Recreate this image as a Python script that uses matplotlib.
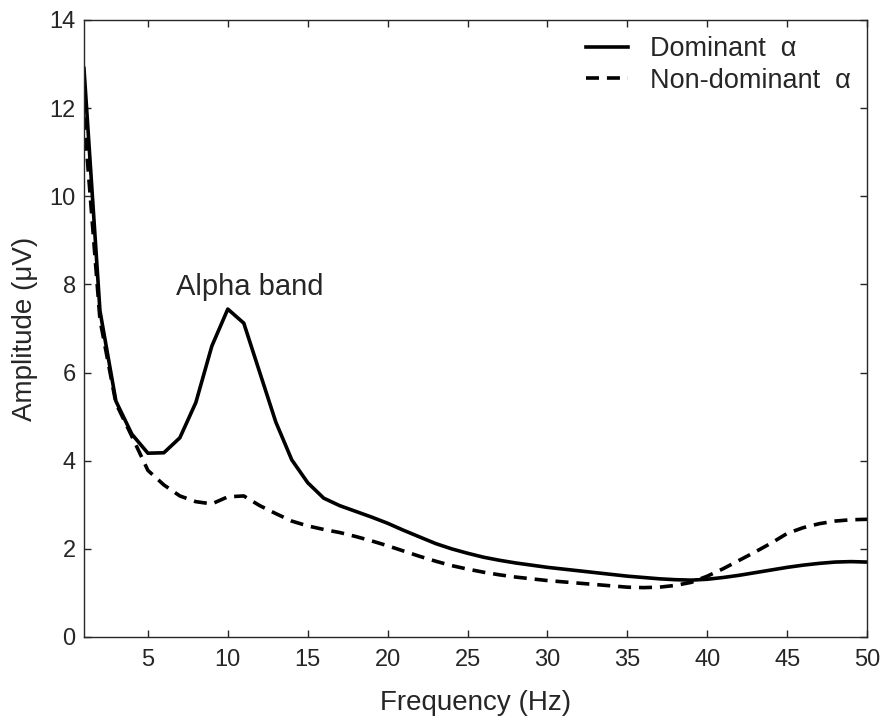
import matplotlib
matplotlib.use("Agg")
import matplotlib.pyplot as plt
import numpy as np

freq = list(range(1, 51))
dominant = [12.9, 7.4, 5.35, 4.6, 4.17, 4.18, 4.52, 5.32, 6.6, 7.44,
            7.12, 6.0, 4.88, 4.02, 3.5, 3.15, 2.98, 2.85, 2.72, 2.58,
            2.42, 2.27, 2.12, 2.0, 1.9, 1.81, 1.74, 1.68, 1.63, 1.58,
            1.54, 1.5, 1.46, 1.42, 1.38, 1.35, 1.32, 1.3, 1.29, 1.31,
            1.35, 1.4, 1.46, 1.52, 1.58, 1.63, 1.67, 1.7, 1.71, 1.7]
nondominant = [11.8, 7.2, 5.3, 4.55, 3.78, 3.45, 3.2, 3.07, 3.02, 3.18,
               3.2, 2.98, 2.8, 2.63, 2.52, 2.44, 2.37, 2.28, 2.18, 2.07,
               1.95, 1.83, 1.72, 1.62, 1.54, 1.47, 1.41, 1.36, 1.32, 1.28,
               1.25, 1.22, 1.19, 1.16, 1.13, 1.12, 1.13, 1.17, 1.24, 1.38,
               1.55, 1.74, 1.93, 2.13, 2.35, 2.48, 2.57, 2.63, 2.66, 2.67]
xticks = [5, 10, 15, 20, 25, 30, 35, 40, 45, 50]
yticks = [0, 2, 4, 6, 8, 10, 12, 14]

plt.rcParams['font.family'] = ['Liberation Sans', 'DejaVu Sans']
txt = '#262626'

fig = plt.figure(figsize=(8.83, 7.2), dpi=100)
ax = fig.add_axes([0.0951, 0.1153, 0.8869, 0.857])

ax.plot(freq, dominant, color='black', lw=2.6, label='Dominant  α')
ax.plot(freq, nondominant, color='black', lw=2.6, dashes=(3.6, 2.2),
        label='Non-dominant  α')

ax.set_xlim(1, 50)
ax.set_ylim(0, 14)
ax.set_xticks(xticks)
ax.set_yticks(yticks)
ax.tick_params(direction='in', top=True, right=True, length=5, width=1,
               labelsize=17, colors=txt, pad=6)
ax.tick_params(axis='x', pad=9)
for s in ax.spines.values():
    s.set_linewidth(1.0)
    s.set_color('#262626')

ax.set_xlabel('Frequency (Hz)', fontsize=20, color=txt, labelpad=13)
ax.set_ylabel('Amplitude (μV)', fontsize=20, color=txt, labelpad=8)

ax.text(11.4, 7.77, 'Alpha band', fontsize=21, color=txt, ha='center',
        va='baseline')

leg = ax.legend(loc='upper right', frameon=False, fontsize=19.5,
                handlelength=1.55, handletextpad=0.8, labelspacing=0.2,
                borderaxespad=0.2)
for t in leg.get_texts():
    t.set_color(txt)

fig.savefig('out.png', dpi=100)
